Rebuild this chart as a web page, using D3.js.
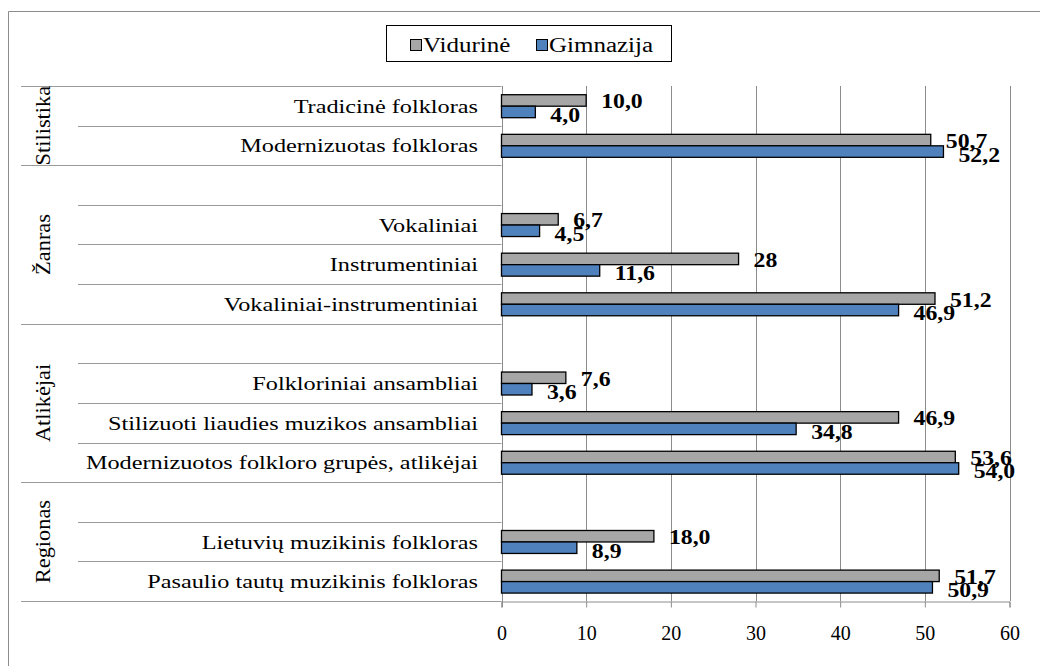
<!DOCTYPE html>
<html>
<head>
<meta charset="utf-8">
<script src="https://cdn.jsdelivr.net/npm/d3@7"></script>
<style>
  body { margin: 0; background: #fff; }
  svg { display: block; font-family: "Liberation Serif", "Times New Roman", serif; }
</style>
</head>
<body>
<div id="viz"></div>
<script>
// rows from top to bottom, "" = empty spacer row
const categories = [
  'Tradicinė folkloras',
  'Modernizuotas folkloras',
  '',
  'Vokaliniai',
  'Instrumentiniai',
  'Vokaliniai-instrumentiniai',
  '',
  'Folkloriniai ansambliai',
  'Stilizuoti liaudies muzikos ansambliai',
  'Modernizuotos folkloro grupės, atlikėjai',
  '',
  'Lietuvių muzikinis folkloras',
  'Pasaulio tautų muzikinis folkloras',
];
// labels as printed on the chart
const vidurine = ['10,0', '50,7', null, '6,7', '28', '51,2', null, '7,6', '46,9', '53,6', null, '18,0', '51,7'];
const gimnazija = ['4,0', '52,2', null, '4,5', '11,6', '46,9', null, '3,6', '34,8', '54,0', null, '8,9', '50,9'];
const groups = ['Stilistika', 'Žanras', 'Atlikėjai', 'Regionas'];
const groupStart = [0, 2, 6, 10];
const groupEnd = [2, 6, 10, 13];
const seriesNames = ['Vidurinė', 'Gimnazija'];
const seriesColors = ['#a6a6a6', '#4f81bd'];
const xTicks = [0, 10, 20, 30, 40, 50, 60];

const width = 1040;
const height = 666;
const stretch = 1.245; // the source text is a bit wider than plain Times
const num = s => +s.replace(',', '.');

const svg = d3.select('#viz')
  .append('svg')
  .attr('width', width)
  .attr('height', height);

// outer chart frame (cut off at right and bottom)
svg.append('path')
  .attr('d', `M8.5,${height} V11.5 H${width}`)
  .attr('fill', 'none')
  .attr('stroke', '#8c8c8c');

const x = d3.scaleLinear()
  .domain([0, 60])
  .range([501.5, 1009.5]);

const y = d3.scaleBand()
  .domain(d3.range(categories.length))
  .range([86, 601]);

const inner = d3.scaleBand()
  .domain([0, 1])
  .range([y.bandwidth() * 0.22, y.bandwidth() * 0.8]);

// vertical gridlines
svg.append('g')
  .selectAll('line')
  .data(xTicks.slice(1))
  .join('line')
  .attr('x1', d => Math.round(x(d)) + 0.5)
  .attr('x2', d => Math.round(x(d)) + 0.5)
  .attr('y1', y.range()[0])
  .attr('y2', y.range()[1])
  .attr('stroke', '#8c8c8c');

// category separators: long at group borders, short inside groups
const boundaries = d3.range(categories.length + 1);
svg.append('g')
  .selectAll('line')
  .data(boundaries)
  .join('line')
  .attr('x1', i => (groupStart.includes(i) || i === categories.length) ? 21 : 78)
  .attr('x2', x(0))
  .attr('y1', i => Math.round(y.range()[0] + i * y.step()) + 0.5)
  .attr('y2', i => Math.round(y.range()[0] + i * y.step()) + 0.5)
  .attr('stroke', '#9a9a9a');

// x axis
const xAxis = d3.axisBottom(x)
  .tickValues(xTicks)
  .tickSize(6)
  .tickPadding(18);

svg.append('g')
  .attr('transform', `translate(0, ${y.range()[1] + 0.5})`)
  .call(xAxis)
  .call(g => g.select('.domain').attr('stroke', '#8c8c8c'))
  .call(g => g.selectAll('.tick line').attr('stroke', '#8c8c8c'))
  .call(g => g.selectAll('text')
    .attr('font-family', '"Liberation Serif", serif')
    .attr('font-size', 20)
    .attr('fill', '#000'));

// y axis line
svg.append('line')
  .attr('x1', Math.round(x(0)) + 0.5)
  .attr('x2', Math.round(x(0)) + 0.5)
  .attr('y1', y.range()[0])
  .attr('y2', y.range()[1] + 6)
  .attr('stroke', '#8c8c8c');

// bars
const series = [vidurine, gimnazija];
series.forEach((vals, s) => {
  const rows = vals.map((v, i) => ({ v, i })).filter(d => d.v !== null);

  svg.append('g')
    .selectAll('rect')
    .data(rows)
    .join('rect')
    .attr('x', x(0))
    .attr('y', d => y(d.i) + inner(s))
    .attr('width', d => x(num(d.v)) - x(0))
    .attr('height', inner.bandwidth())
    .attr('fill', seriesColors[s])
    .attr('stroke', '#000')
    .attr('stroke-width', 1.3);

  svg.append('g')
    .selectAll('text')
    .data(rows)
    .join('text')
    .attr('transform', d => `translate(${x(num(d.v)) + 15}, ${y(d.i) + inner(s) + inner.bandwidth() / 2 + (s === 0 ? 8 : 10)}) scale(1.08, 1)`)
    .attr('font-size', 22)
    .attr('font-weight', 'bold')
    .text(d => d.v);
});

// category labels
svg.append('g')
  .selectAll('text')
  .data(categories)
  .join('text')
  .attr('transform', (d, i) => `translate(478, ${y(i) + y.bandwidth() / 2 + 7}) scale(${stretch}, 1)`)
  .attr('text-anchor', 'end')
  .attr('font-size', 19.5)
  .text(d => d);

// group labels
svg.append('g')
  .selectAll('text')
  .data(groups)
  .join('text')
  .attr('transform', (d, i) => {
    const cy = (y(groupStart[i]) + y(groupEnd[i] - 1) + y.bandwidth()) / 2;
    return `translate(50, ${cy}) rotate(-90) scale(1.12, 1)`;
  })
  .attr('text-anchor', 'middle')
  .attr('font-size', 20)
  .text(d => d);

// legend
const legend = svg.append('g');
legend.append('rect')
  .attr('x', 386.5)
  .attr('y', 25.5)
  .attr('width', 285)
  .attr('height', 36)
  .attr('fill', '#fff')
  .attr('stroke', '#000');

const legendX = [410, 536];
seriesNames.forEach((name, s) => {
  legend.append('rect')
    .attr('x', legendX[s] + 0.5)
    .attr('y', 39.5)
    .attr('width', 11)
    .attr('height', 11)
    .attr('fill', seriesColors[s])
    .attr('stroke', '#000');
  legend.append('text')
    .attr('transform', `translate(${legendX[s] + 13}, 51.5) scale(1.25, 1)`)
    .attr('font-size', 20)
    .text(name);
});
</script>
</body>
</html>
